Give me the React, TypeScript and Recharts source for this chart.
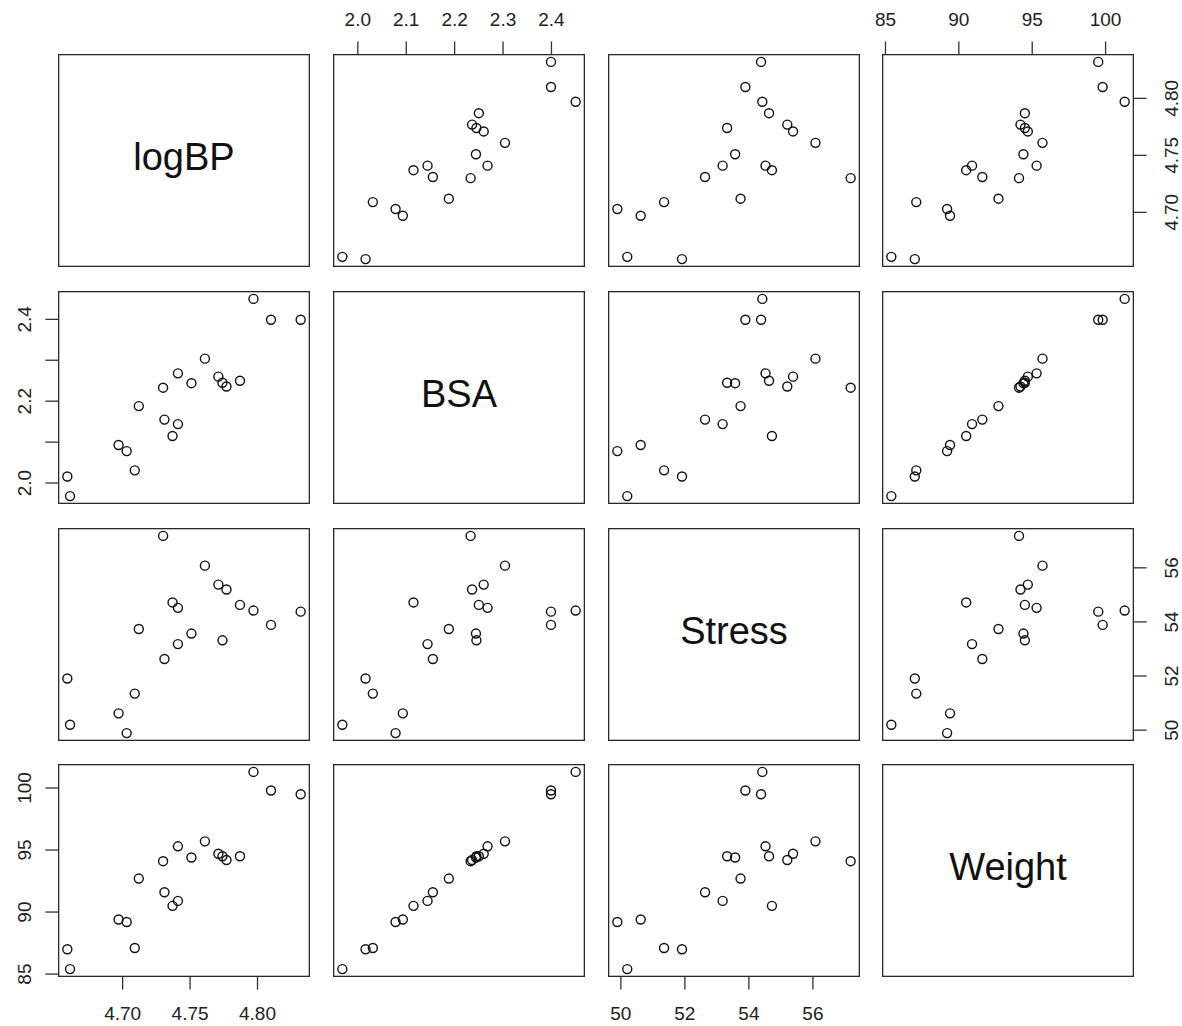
import React from 'react';
import { ScatterChart, Scatter, XAxis, YAxis } from 'recharts';

const weight = [85.4, 94.2, 95.3, 94.7, 89.4, 99.5, 99.8, 90.9, 89.2, 92.7, 94.4, 94.1, 91.6, 87.1, 101.3, 94.5, 87.0, 94.5, 90.5, 95.7];
const logBP = [4.661, 4.777, 4.741, 4.771, 4.697, 4.832, 4.810, 4.741, 4.703, 4.712, 4.751, 4.730, 4.731, 4.709, 4.797, 4.774, 4.659, 4.787, 4.737, 4.761];
const bsa = [1.968, 2.236, 2.268, 2.260, 2.093, 2.399, 2.399, 2.144, 2.078, 2.188, 2.244, 2.233, 2.155, 2.031, 2.450, 2.245, 2.016, 2.250, 2.115, 2.304];
const stress = [50.20, 55.20, 54.52, 55.38, 50.62, 54.38, 53.89, 53.18, 49.89, 53.74, 53.57, 57.18, 52.63, 51.35, 54.42, 53.32, 51.91, 54.63, 54.72, 56.08];

const varNames = ['logBP', 'BSA', 'Stress', 'Weight'];

const logBPTicks = [4.70, 4.75, 4.80];
const logBPLabels = ['4.70', '4.75', '4.80'];
const bsaTicks = [2.0, 2.1, 2.2, 2.3, 2.4];
const bsaTopLabels = ['2.0', '2.1', '2.2', '2.3', '2.4'];
const bsaLeftLabels = ['2.0', '', '2.2', '', '2.4'];
const stressTicks = [50, 52, 54, 56];
const stressLabels = ['50', '52', '54', '56'];
const weightTicks = [85, 90, 95, 100];
const weightLabels = ['85', '90', '95', '100'];

const rows = weight.map((w, i) => ({ logBP: logBP[i], BSA: bsa[i], Stress: stress[i], Weight: w }));

// R style 4% padding around the data range
const padDomain = (vals: number[]): [number, number] => {
  const lo = Math.min(...vals);
  const hi = Math.max(...vals);
  const r = hi - lo;
  return [lo - 0.04 * r, hi + 0.04 * r];
};

const domains: Record<string, [number, number]> = {
  logBP: padDomain(logBP),
  BSA: padDomain(bsa),
  Stress: padDomain(stress),
  Weight: padDomain(weight),
};

const axisTicks: Record<string, number[]> = {
  logBP: logBPTicks,
  BSA: bsaTicks,
  Stress: stressTicks,
  Weight: weightTicks,
};

const labelsFor = (name: string, side: string): string[] => {
  if (name === 'logBP') return logBPLabels;
  if (name === 'BSA') return side === 'left' ? bsaLeftLabels : bsaTopLabels;
  if (name === 'Stress') return stressLabels;
  return weightLabels;
};

const FONT = '"Liberation Sans", Arial, Helvetica, sans-serif';
const PW = 252;
const PH = 213;
const X0 = 58.3;
const Y0 = 54.3;
const GX = 274.7;
const GY = 236.6;
const M = 60;
const INK = '#222';

const makeTick = (name: string, side: string) => {
  const ticks = axisTicks[name];
  const labels = labelsFor(name, side);
  return (props: any) => {
    const { x, y, payload } = props;
    const idx = ticks.findIndex((t) => Math.abs(t - payload.value) < 1e-9);
    const label = idx >= 0 ? labels[idx] : '';
    const common = { fill: INK, fontSize: 19, fontFamily: FONT, textAnchor: 'middle' as const };
    if (side === 'top') return <text x={x} y={M - 27.6} {...common}>{label}</text>;
    if (side === 'bottom') return <text x={x} y={M + PH + 43} {...common}>{label}</text>;
    const bx = side === 'left' ? M - 26.6 : M + PW + 44;
    return (
      <text x={bx} y={y} transform={`rotate(-90, ${bx}, ${y})`} {...common}>
        {label}
      </text>
    );
  };
};

const tickLine = { stroke: '#333', strokeWidth: 1.3 };

const Dot = (p: any) => <circle cx={p.cx} cy={p.cy} r={4.5} fill="none" stroke="#111" strokeWidth={1.4} />;

const Panel = ({ i, j }: { i: number; j: number }) => {
  const n = varNames.length;
  const xName = varNames[j];
  const yName = varNames[i];
  const px = X0 + j * GX;
  const py = Y0 + i * GY;

  const showTop = i === 0 && j % 2 === 1;
  const showBottom = i === n - 1 && j % 2 === 0;
  const showLeft = j === 0 && i % 2 === 1;
  const showRight = j === n - 1 && i % 2 === 0;
  const xSide = showTop ? 'top' : 'bottom';
  const ySide = showLeft ? 'left' : 'right';

  // visible axes take 1px of room, so the margin gives that back
  const margin = {
    top: M - (showTop ? 1 : 0),
    bottom: M - (showBottom ? 1 : 0),
    left: M - (showLeft ? 1 : 0),
    right: M - (showRight ? 1 : 0),
  };

  return (
    <div style={{ position: 'absolute', left: px - M, top: py - M }}>
      <ScatterChart width={PW + 2 * M} height={PH + 2 * M} margin={margin}>
        <XAxis
          type="number"
          dataKey={xName}
          domain={domains[xName]}
          allowDataOverflow
          hide={!(showTop || showBottom)}
          orientation={xSide as any}
          height={1}
          ticks={axisTicks[xName]}
          interval={0}
          tick={makeTick(xName, xSide)}
          tickSize={12.6}
          tickMargin={0}
          tickLine={tickLine}
          axisLine={false}
        />
        <YAxis
          type="number"
          dataKey={yName}
          domain={domains[yName]}
          allowDataOverflow
          hide={!(showLeft || showRight)}
          orientation={ySide as any}
          width={1}
          ticks={axisTicks[yName]}
          interval={0}
          tick={makeTick(yName, ySide)}
          tickSize={12.6}
          tickMargin={0}
          tickLine={tickLine}
          axisLine={false}
        />
        <Scatter data={rows} shape={Dot} isAnimationActive={false} />
      </ScatterChart>
    </div>
  );
};

const Box = ({ i, j }: { i: number; j: number }) => {
  const px = X0 + j * GX;
  const py = Y0 + i * GY;
  return (
    <svg style={{ position: 'absolute', left: px, top: py }} width={PW} height={PH}>
      <rect x={0.65} y={0.65} width={PW - 1.3} height={PH - 1.3} fill="none" stroke="#2a2a2a" strokeWidth={1.3} />
      {i === j && (
        <text x={PW / 2} y={PH / 2 + 9.5} textAnchor="middle" fontSize={38} fontFamily={FONT} fill="#111">
          {varNames[i]}
        </text>
      )}
    </svg>
  );
};

export default function App() {
  const cells: { i: number; j: number }[] = [];
  varNames.forEach((_, i) => varNames.forEach((__, j) => cells.push({ i, j })));

  return (
    <div style={{ position: 'absolute', left: 0, top: 0, width: 1182, height: 1026, background: '#fff', overflow: 'hidden' }}>
      {cells.map(({ i, j }) => (
        <Box key={`b${i}${j}`} i={i} j={j} />
      ))}
      {cells
        .filter(({ i, j }) => i !== j)
        .map(({ i, j }) => (
          <Panel key={`p${i}${j}`} i={i} j={j} />
        ))}
    </div>
  );
}
